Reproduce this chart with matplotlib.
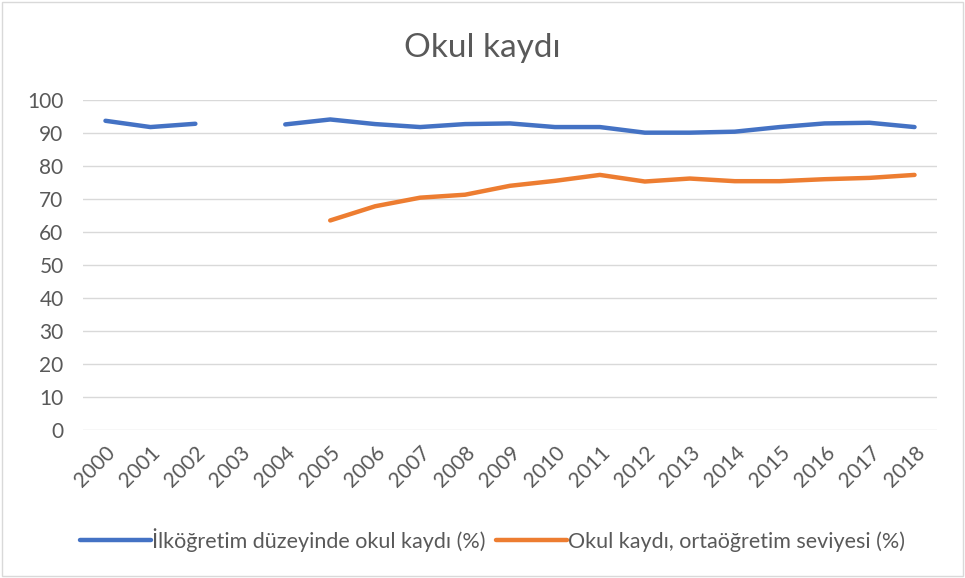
import numpy as np
import matplotlib
matplotlib.use("Agg")
import matplotlib.pyplot as plt
from matplotlib.patches import Rectangle

years = [str(y) for y in range(2000, 2019)]
primary = [93.7, 91.8, 92.8, np.nan, 92.6, 94.1, 92.7, 91.8, 92.7, 92.9,
           91.8, 91.8, 90.1, 90.1, 90.4, 91.8, 92.9, 93.1, 91.8]
secondary = [np.nan, np.nan, np.nan, np.nan, np.nan, 63.5, 67.8, 70.4, 71.3, 74.0,
             75.5, 77.3, 75.3, 76.2, 75.4, 75.4, 76.0, 76.4, 77.3]
yticks = list(range(0, 101, 10))

plt.rcParams['font.family'] = ['Lato', 'DejaVu Sans']

fig = plt.figure(figsize=(9.65, 5.78), dpi=100)
ax = fig.add_axes([83/965, 1-430/578, (937-83)/965, 330/578])
x = np.arange(len(years))
ax.plot(x, primary, color='#4472C4', lw=3.2, solid_capstyle='round', solid_joinstyle='round',
        label='İlköğretim düzeyinde okul kaydı (%)')
ax.plot(x, secondary, color='#ED7D31', lw=3.2, solid_capstyle='round', solid_joinstyle='round',
        label='Okul kaydı, ortaöğretim seviyesi (%)')
ax.set_xlim(-0.5, len(years)-0.5)
ax.set_ylim(0, 100)
ax.set_yticks(yticks)
ax.set_xticks(x)
ax.set_xticklabels(years, rotation=45, ha='right', rotation_mode='anchor')
ax.grid(axis='y', color='#D9D9D9', lw=1)
ax.set_axisbelow(True)
for s in ax.spines.values():
    s.set_visible(False)
ax.tick_params(length=0, labelsize=15, colors='#595959')
ax.tick_params(axis='y', pad=14)
ax.tick_params(axis='x', pad=9)
fig.text(0.5, 1-48/578, 'Okul kaydı', ha='center', va='center', fontsize=24, color='#595959')
fig.legend(loc='center', bbox_to_anchor=(0.5104, 1-540/578), ncol=2, frameon=False,
           fontsize=15.5, labelcolor='#595959', handlelength=3.3, handletextpad=0.05,
           columnspacing=0.5)
fig.patches.append(Rectangle((0.002, 0.003), 0.996, 0.994, transform=fig.transFigure,
                             fill=False, edgecolor='#D9D9D9', lw=1))
fig.savefig('out.png', dpi=100)
